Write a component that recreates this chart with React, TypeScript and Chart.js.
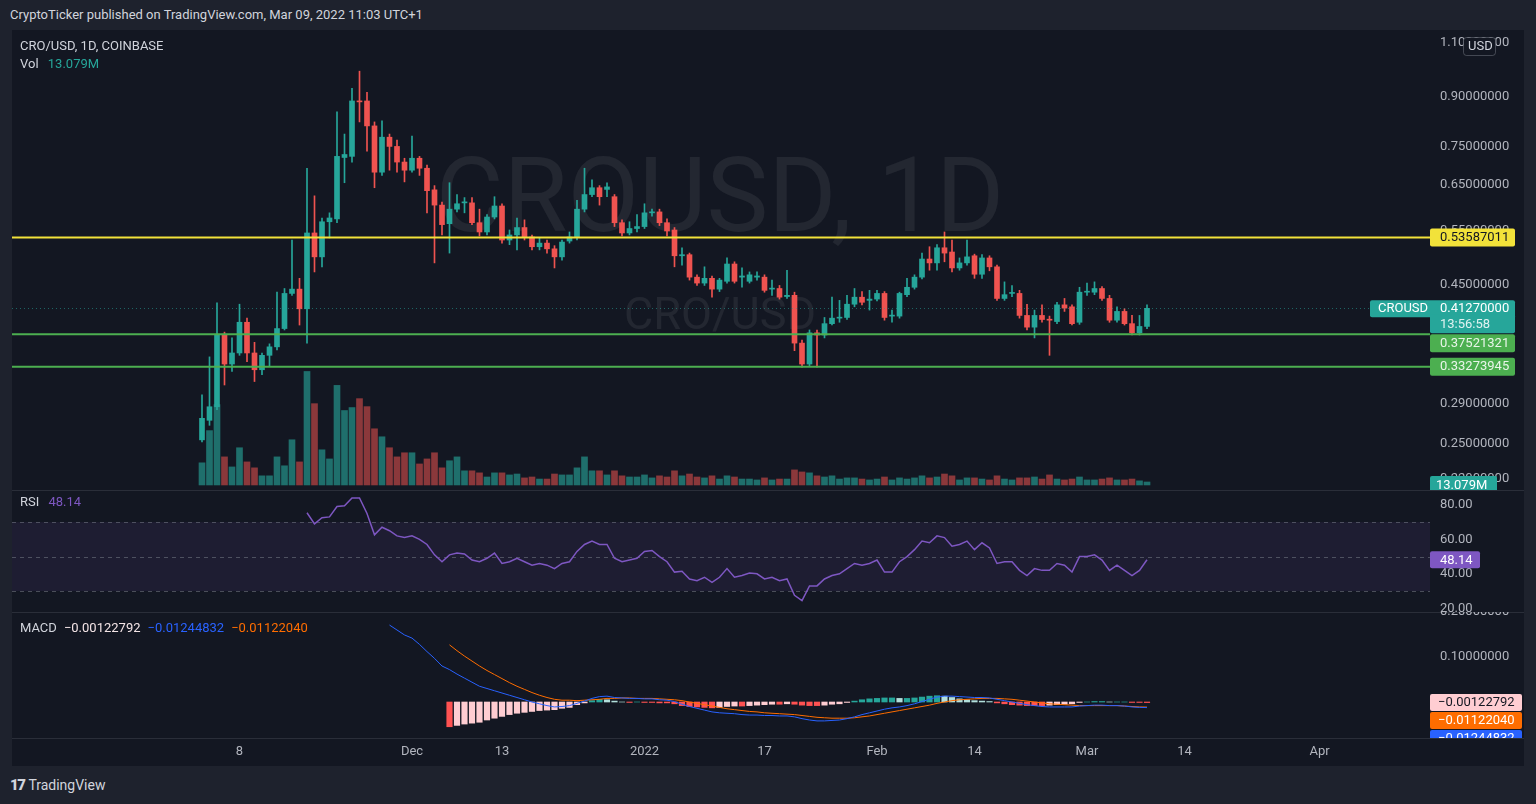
import React, { useEffect, useRef } from 'react';
import { Chart, registerables } from 'chart.js';
Chart.register(...registerables);

// ---------------- data ----------------
const startDate = '2021-11-03';
const axisOriginDate = '2021-12-01';

const opens = [
  0.254, 0.273, 0.287, 0.375, 0.336, 0.350, 0.392, 0.350, 0.329, 0.347,
  0.358, 0.383, 0.436, 0.443, 0.412, 0.545, 0.499, 0.568, 0.574, 0.720,
  0.723, 0.887, 0.887, 0.809, 0.682, 0.776, 0.750, 0.708, 0.687, 0.718,
  0.692, 0.639, 0.604, 0.564, 0.595, 0.609, 0.609, 0.566, 0.547, 0.578,
  0.602, 0.531, 0.541, 0.556, 0.537, 0.518, 0.525, 0.514, 0.499, 0.529,
  0.537, 0.595, 0.628, 0.644, 0.640, 0.623, 0.566, 0.545, 0.554, 0.558,
  0.587, 0.589, 0.566, 0.551, 0.501, 0.503, 0.463, 0.453, 0.461, 0.443,
  0.456, 0.486, 0.463, 0.456, 0.463, 0.463, 0.443, 0.444, 0.431, 0.433,
  0.363, 0.336, 0.377, 0.374, 0.390, 0.398, 0.399, 0.419, 0.430, 0.425,
  0.427, 0.436, 0.401, 0.401, 0.434, 0.446, 0.463, 0.495, 0.488, 0.516,
  0.508, 0.479, 0.488, 0.501, 0.468, 0.497, 0.481, 0.428, 0.436, 0.436,
  0.402, 0.385, 0.402, 0.396, 0.393, 0.418, 0.415, 0.392, 0.438, 0.438,
  0.444, 0.428, 0.395, 0.408, 0.390, 0.377, 0.386,
];
const highs = [
  0.300, 0.345, 0.421, 0.378, 0.370, 0.419, 0.398, 0.364, 0.350, 0.362,
  0.438, 0.444, 0.531, 0.461, 0.692, 0.625, 0.576, 0.587, 0.852, 0.785,
  0.929, 0.990, 0.916, 0.821, 0.824, 0.785, 0.768, 0.718, 0.779, 0.723,
  0.700, 0.649, 0.611, 0.656, 0.628, 0.621, 0.621, 0.595, 0.583, 0.623,
  0.607, 0.551, 0.576, 0.572, 0.541, 0.535, 0.531, 0.520, 0.531, 0.547,
  0.615, 0.692, 0.663, 0.649, 0.656, 0.628, 0.572, 0.568, 0.583, 0.607,
  0.595, 0.595, 0.574, 0.556, 0.516, 0.506, 0.467, 0.481, 0.465, 0.461,
  0.497, 0.490, 0.479, 0.472, 0.472, 0.467, 0.458, 0.449, 0.475, 0.438,
  0.367, 0.381, 0.381, 0.399, 0.430, 0.425, 0.433, 0.444, 0.439, 0.441,
  0.441, 0.439, 0.410, 0.438, 0.461, 0.467, 0.506, 0.518, 0.522, 0.547,
  0.531, 0.497, 0.531, 0.504, 0.503, 0.501, 0.484, 0.455, 0.449, 0.441,
  0.419, 0.410, 0.418, 0.401, 0.422, 0.428, 0.418, 0.446, 0.453, 0.455,
  0.447, 0.433, 0.415, 0.412, 0.402, 0.402, 0.418,
];
const lows = [
  0.252, 0.268, 0.284, 0.311, 0.327, 0.347, 0.339, 0.315, 0.323, 0.333,
  0.354, 0.381, 0.433, 0.388, 0.363, 0.472, 0.481, 0.535, 0.566, 0.656,
  0.708, 0.821, 0.737, 0.644, 0.674, 0.687, 0.682, 0.658, 0.682, 0.674,
  0.587, 0.488, 0.541, 0.506, 0.589, 0.587, 0.562, 0.539, 0.541, 0.574,
  0.525, 0.522, 0.512, 0.531, 0.512, 0.512, 0.506, 0.479, 0.493, 0.525,
  0.531, 0.589, 0.623, 0.604, 0.623, 0.558, 0.539, 0.541, 0.547, 0.554,
  0.580, 0.560, 0.539, 0.481, 0.484, 0.458, 0.449, 0.449, 0.430, 0.439,
  0.453, 0.453, 0.446, 0.453, 0.458, 0.438, 0.433, 0.427, 0.428, 0.353,
  0.332, 0.334, 0.332, 0.370, 0.388, 0.392, 0.396, 0.415, 0.418, 0.410,
  0.424, 0.395, 0.392, 0.398, 0.431, 0.443, 0.460, 0.475, 0.475, 0.490,
  0.472, 0.475, 0.484, 0.461, 0.461, 0.474, 0.425, 0.425, 0.431, 0.398,
  0.381, 0.370, 0.392, 0.347, 0.390, 0.408, 0.388, 0.389, 0.433, 0.434,
  0.425, 0.392, 0.392, 0.388, 0.374, 0.374, 0.383,
];
const closes = [
  0.275, 0.287, 0.375, 0.336, 0.350, 0.392, 0.350, 0.329, 0.347, 0.358,
  0.383, 0.436, 0.443, 0.412, 0.545, 0.499, 0.568, 0.576, 0.723, 0.728,
  0.887, 0.884, 0.809, 0.682, 0.776, 0.750, 0.708, 0.687, 0.718, 0.692,
  0.637, 0.604, 0.562, 0.595, 0.607, 0.611, 0.566, 0.547, 0.578, 0.602,
  0.531, 0.541, 0.556, 0.537, 0.518, 0.525, 0.514, 0.499, 0.527, 0.537,
  0.595, 0.628, 0.644, 0.623, 0.646, 0.566, 0.545, 0.554, 0.558, 0.587,
  0.589, 0.566, 0.549, 0.501, 0.503, 0.463, 0.453, 0.461, 0.443, 0.458,
  0.486, 0.456, 0.465, 0.467, 0.465, 0.441, 0.444, 0.430, 0.433, 0.363,
  0.336, 0.377, 0.374, 0.390, 0.398, 0.399, 0.419, 0.430, 0.422, 0.427,
  0.436, 0.399, 0.402, 0.436, 0.446, 0.463, 0.495, 0.488, 0.516, 0.506,
  0.479, 0.488, 0.499, 0.468, 0.497, 0.481, 0.428, 0.434, 0.437, 0.402,
  0.385, 0.402, 0.396, 0.395, 0.418, 0.413, 0.390, 0.438, 0.439, 0.444,
  0.428, 0.395, 0.408, 0.390, 0.377, 0.386, 0.4127,
];
// volume in millions
const volumes = [
  97, 238, 352, 123, 79, 163, 101, 75, 40, 40,
  123, 84, 198, 101, 497, 356, 154, 114, 436, 326,
  339, 378, 343, 246, 211, 163, 123, 141, 141, 92,
  114, 141, 75, 106, 123, 62, 62, 53, 35, 53,
  53, 44, 48, 31, 35, 26, 26, 48, 44, 44,
  75, 123, 62, 62, 44, 62, 40, 35, 35, 44,
  31, 40, 35, 62, 40, 48, 35, 31, 40, 26,
  40, 35, 26, 26, 22, 31, 22, 26, 26, 66,
  57, 53, 40, 35, 40, 26, 31, 31, 26, 22,
  26, 35, 22, 31, 26, 31, 40, 31, 35, 48,
  40, 22, 31, 31, 26, 22, 40, 26, 22, 31,
  31, 35, 26, 44, 26, 22, 26, 35, 22, 22,
  26, 31, 22, 22, 26, 18, 13.079,
];

const rsiFirstIndex = 14;
const rsiValues = [
  75.4, 69, 72.5, 73, 79, 79.4, 84, 84, 75, 62.6,
  67, 65, 62, 61, 62, 60, 57, 51, 47, 51,
  52, 51.5, 48, 47, 49, 52, 46, 47, 49, 47,
  45, 46, 45, 43, 46, 47, 53, 57, 59, 57,
  57, 49, 47, 48, 49, 53, 53.5, 50, 47, 41,
  41.5, 37, 36, 38, 35, 38, 43, 38, 39, 40.5,
  40, 37, 38, 36, 37, 27.5, 24.5, 33, 33, 37,
  39, 40, 43, 46, 45, 46, 48, 41, 41, 47,
  50, 54, 59, 58, 62, 61, 56, 57, 59, 54,
  58, 55, 46, 47, 47, 42, 39, 43, 42, 42,
  46, 45, 41, 50, 50, 51, 48, 42, 45, 42,
  39, 42, 48.14,
];

const macdFirstIndex = 25;
const macdValues = [
  0.171, 0.160, 0.149, 0.142, 0.128, 0.112, 0.097, 0.080, 0.072, 0.062,
  0.053, 0.044, 0.035, 0.030, 0.025, 0.020, 0.015, 0.010, 0.005, 0.000,
  -0.004, -0.008, -0.011, -0.010, -0.008, -0.003, 0.002, 0.008, 0.012, 0.013,
  0.010, 0.009, 0.008, 0.008, 0.007, 0.007, 0.005, 0.004, 0.001, -0.005,
  -0.010, -0.014, -0.018, -0.022, -0.024, -0.025, -0.026, -0.028, -0.029, -0.029,
  -0.030, -0.030, -0.031, -0.031, -0.033, -0.037, -0.040, -0.042, -0.042, -0.041,
  -0.040, -0.037, -0.033, -0.028, -0.024, -0.020, -0.016, -0.013, -0.011, -0.008,
  -0.004, 0.001, 0.006, 0.011, 0.013, 0.013, 0.012, 0.011, 0.010, 0.010,
  0.009, 0.006, 0.003, 0.000, -0.003, -0.006, -0.008, -0.010, -0.011, -0.011,
  -0.011, -0.011, -0.009, -0.008, -0.007, -0.007, -0.008, -0.008, -0.009, -0.011,
  -0.012, -0.01244832,
];

const signalFirstIndex = 33;
const signalValues = [
  0.127, 0.114, 0.102, 0.091, 0.080, 0.070, 0.061, 0.052, 0.043, 0.035,
  0.028, 0.021, 0.015, 0.010, 0.006, 0.004, 0.004, 0.003, 0.004, 0.005,
  0.006, 0.008, 0.008, 0.009, 0.009, 0.008, 0.008, 0.008, 0.007, 0.006,
  0.005, 0.003, 0.000, -0.003, -0.006, -0.009, -0.012, -0.015, -0.017, -0.019,
  -0.021, -0.022, -0.024, -0.025, -0.026, -0.027, -0.028, -0.030, -0.032, -0.034,
  -0.035, -0.036, -0.036, -0.036, -0.035, -0.033, -0.031, -0.028, -0.025, -0.022,
  -0.019, -0.016, -0.013, -0.010, -0.007, -0.003, 0.000, 0.003, 0.005, 0.006,
  0.007, 0.008, 0.008, 0.008, 0.007, 0.006, 0.004, 0.002, 0.000, -0.002,
  -0.004, -0.005, -0.006, -0.007, -0.008, -0.008, -0.008, -0.008, -0.008, -0.008,
  -0.009, -0.010, -0.011, -0.0112204,
];

const histFirstIndex = 33;
const histValues = [
  -0.055, -0.052, -0.049, -0.047, -0.045, -0.040, -0.036, -0.032, -0.028, -0.025,
  -0.023, -0.021, -0.019, -0.018, -0.017, -0.014, -0.012, -0.006, -0.002, 0.003,
  0.006, 0.005, 0.002, 0.000, -0.001, 0.000, -0.001, -0.001, -0.002, -0.002,
  -0.004, -0.008, -0.010, -0.011, -0.012, -0.013, -0.012, -0.010, -0.009, -0.009,
  -0.008, -0.007, -0.006, -0.005, -0.005, -0.004, -0.005, -0.007, -0.008, -0.008,
  -0.007, -0.005, -0.004, -0.001, 0.002, 0.005, 0.007, 0.008, 0.009, 0.009,
  0.008, 0.008, 0.009, 0.011, 0.013, 0.014, 0.013, 0.010, 0.007, 0.005,
  0.003, 0.002, 0.001, -0.002, -0.004, -0.006, -0.007, -0.008, -0.008, -0.008,
  -0.007, -0.006, -0.005, -0.004, -0.001, 0.000, 0.001, 0.001, 0.000, 0.000,
  0.000, -0.001, -0.001, -0.00122792,
];

const priceTicks = [0.22, 0.25, 0.29, 0.45, 0.55, 0.65, 0.75, 0.9, 1.1];
const rsiTicks = [20, 40, 60, 80];
const macdTicks = [0.1, 0.2];
const xTickDates = ['2021-11-08', '2021-12-01', '2021-12-13', '2022-01-01', '2022-01-17', '2022-02-01', '2022-02-14', '2022-03-01', '2022-03-14', '2022-04-01'];
const xTickLabels = ['8', 'Dec', '13', '2022', '17', 'Feb', '14', 'Mar', '14', 'Apr'];

const resistanceLevel = 0.53587011;
const supportLevels = [0.37521321, 0.33273945];
const lastPrice = 0.4127;
const symbolName = 'CROUSD';
const countdownText = '13:56:58';
const lastVolumeText = '13.079M';
const rsiLastText = '48.14';
const macdHistText = '\u22120.00122792';
const macdLineText = '\u22120.01244832';
const macdSignalText = '\u22120.01122040';

// ---------------- view ranges ----------------
const X_MIN = -53.333;
const X_MAX = 135.733;
const P_MIN = 0.2111;
const P_MAX = 1.1525;
const V_MIN = -22;
const V_MAX = 1992;
const RSI_MIN = 17.85;
const RSI_MAX = 88.6;
const MACD_MIN = -0.08;
const MACD_MAX = 0.2;

const UP = '#26a69a';
const DOWN = '#ef5350';
const FONT = 'Roboto, "Liberation Sans", sans-serif';
const AXIS_TEXT = '#b2b5be';

const DAY = 86400000;
const dayOffset = (iso: string) => (Date.parse(iso) - Date.parse(axisOriginDate)) / DAY;
const candleX = (i: number) => dayOffset(startDate) + i;
const isUp = (i: number) => closes[i] >= opens[i];

function box(ctx: any, x: number, y: number, w: number, h: number, bg: string) {
  ctx.fillStyle = bg;
  ctx.beginPath();
  if (ctx.roundRect) ctx.roundRect(x, y, w, h, 2);
  else ctx.rect(x, y, w, h);
  ctx.fill();
}

function drawYTicks(chart: any, scaleId: string, values: number[], fmt: (v: number) => string) {
  const { ctx, chartArea } = chart;
  const sc = chart.scales[scaleId];
  ctx.save();
  ctx.font = `13px ${FONT}`;
  ctx.fillStyle = AXIS_TEXT;
  ctx.textAlign = 'left';
  ctx.textBaseline = 'middle';
  values.forEach((v) => {
    ctx.fillText(fmt(v), chartArea.right + 10, sc.getPixelForValue(v));
  });
  ctx.restore();
}

const mainPlugin = {
  id: 'mainDecor',
  beforeDatasetsDraw(chart: any) {
    const { ctx, chartArea } = chart;
    ctx.save();
    ctx.beginPath();
    ctx.rect(chartArea.left, chartArea.top, chartArea.width, chartArea.height);
    ctx.clip();
    ctx.fillStyle = 'rgba(255,255,255,0.07)';
    ctx.textAlign = 'center';
    ctx.textBaseline = 'middle';
    ctx.font = `104px ${FONT}`;
    ctx.fillText('CROUSD, 1D', 708, 175);
    ctx.font = `45px ${FONT}`;
    ctx.fillText('CRO/USD', 708, 288);
    ctx.restore();
  },
  afterDatasetsDraw(chart: any) {
    const { ctx, chartArea } = chart;
    const ys = chart.scales.y;
    ctx.save();
    const py = Math.round(ys.getPixelForValue(lastPrice)) + 0.5;
    ctx.strokeStyle = 'rgba(38,166,154,0.55)';
    ctx.lineWidth = 1;
    ctx.setLineDash([1, 3]);
    ctx.beginPath();
    ctx.moveTo(chartArea.left, py);
    ctx.lineTo(chartArea.right, py);
    ctx.stroke();
    ctx.setLineDash([]);
    ctx.lineWidth = 2;
    ctx.strokeStyle = '#f2e23a';
    const yy = ys.getPixelForValue(resistanceLevel);
    ctx.beginPath();
    ctx.moveTo(chartArea.left, yy);
    ctx.lineTo(chartArea.right, yy);
    ctx.stroke();
    ctx.strokeStyle = '#4caf50';
    supportLevels.forEach((lv) => {
      const gy = ys.getPixelForValue(lv);
      ctx.beginPath();
      ctx.moveTo(chartArea.left, gy);
      ctx.lineTo(chartArea.right, gy);
      ctx.stroke();
    });
    ctx.restore();
  },
  afterDraw(chart: any) {
    const { ctx, chartArea } = chart;
    const ys = chart.scales.y;
    const yv = chart.scales.yVol;
    drawYTicks(chart, 'y', priceTicks, (v) => v.toFixed(8));
    const bx = chartArea.right;
    ctx.save();
    ctx.font = `13px ${FONT}`;
    ctx.textBaseline = 'middle';
    ctx.textAlign = 'left';
    ctx.fillStyle = '#131722';
    ctx.strokeStyle = 'rgba(120,123,134,0.5)';
    ctx.beginPath();
    if (ctx.roundRect) ctx.roundRect(bx + 33.5, 7.5, 32, 18, 3);
    else ctx.rect(bx + 33.5, 7.5, 32, 18);
    ctx.fill();
    ctx.stroke();
    ctx.fillStyle = '#d1d4dc';
    ctx.fillText('USD', bx + 38, 17);
    const ry = ys.getPixelForValue(resistanceLevel);
    box(ctx, bx, ry - 9, 85, 18, '#f2e23a');
    ctx.fillStyle = '#131722';
    ctx.fillText(resistanceLevel.toFixed(8), bx + 10, ry + 0.5);
    const cy = ys.getPixelForValue(lastPrice);
    box(ctx, bx - 60, cy - 8, 145, 17, UP);
    box(ctx, bx, cy + 6, 85, 19, UP);
    ctx.fillStyle = '#ffffff';
    ctx.fillText(symbolName, bx - 52, cy + 0.5);
    ctx.fillText(lastPrice.toFixed(8), bx + 10, cy + 0.5);
    ctx.fillStyle = '#e0f2f1';
    ctx.fillText(countdownText, bx + 10, cy + 16.5);
    let prevBottom = cy + 25;
    supportLevels.forEach((lv) => {
      const gy = ys.getPixelForValue(lv);
      let top = gy - 9;
      if (top < prevBottom + 1) top = prevBottom + 1;
      box(ctx, bx, top, 85, 18, '#4caf50');
      ctx.fillStyle = '#e8f5e9';
      ctx.fillText(lv.toFixed(8), bx + 10, top + 9.5);
      prevBottom = top + 18;
    });
    const vy = yv.getPixelForValue(volumes[volumes.length - 1]);
    box(ctx, bx, vy - 6, 67, 18, UP);
    ctx.fillStyle = '#ffffff';
    ctx.fillText(lastVolumeText, bx + 6, vy + 3.5);
    ctx.restore();
  },
};

const rsiPlugin = {
  id: 'rsiDecor',
  beforeDatasetsDraw(chart: any) {
    const { ctx, chartArea } = chart;
    const ys = chart.scales.y;
    const y70 = ys.getPixelForValue(70);
    const y30 = ys.getPixelForValue(30);
    const y50 = ys.getPixelForValue(50);
    ctx.save();
    ctx.fillStyle = 'rgba(126,87,194,0.1)';
    ctx.fillRect(chartArea.left, y70, chartArea.width, y30 - y70);
    ctx.strokeStyle = 'rgba(120,123,134,0.55)';
    ctx.lineWidth = 1;
    ctx.setLineDash([4, 4]);
    [y70, y50, y30].forEach((yy) => {
      ctx.beginPath();
      ctx.moveTo(chartArea.left, Math.round(yy) + 0.5);
      ctx.lineTo(chartArea.right, Math.round(yy) + 0.5);
      ctx.stroke();
    });
    ctx.restore();
  },
  afterDraw(chart: any) {
    const { ctx, chartArea } = chart;
    drawYTicks(chart, 'y', rsiTicks, (v) => v.toFixed(2));
    const ys = chart.scales.y;
    const vy = ys.getPixelForValue(rsiValues[rsiValues.length - 1]);
    ctx.save();
    box(ctx, chartArea.right, vy - 8.5, 50, 17, '#7e57c2');
    ctx.font = `13px ${FONT}`;
    ctx.fillStyle = '#ffffff';
    ctx.textBaseline = 'middle';
    ctx.textAlign = 'left';
    ctx.fillText(rsiLastText, chartArea.right + 10, vy + 0.5);
    ctx.restore();
  },
};

const macdPlugin = {
  id: 'macdDecor',
  afterDraw(chart: any) {
    const { ctx, chartArea } = chart;
    drawYTicks(chart, 'y', macdTicks, (v) => v.toFixed(8));
    const ys = chart.scales.y;
    const xs = chart.scales.x;
    ctx.save();
    ctx.font = `13px ${FONT}`;
    ctx.textBaseline = 'middle';
    ctx.textAlign = 'left';
    const hy = ys.getPixelForValue(histValues[histValues.length - 1]);
    let top = hy - 8.5;
    box(ctx, chartArea.right, top, 92, 17, '#ffcdd2');
    ctx.fillStyle = '#131722';
    ctx.fillText(macdHistText, chartArea.right + 8, top + 9);
    top += 18;
    box(ctx, chartArea.right, top, 92, 17, '#ff6d00');
    ctx.fillStyle = '#ffffff';
    ctx.fillText(macdSignalText, chartArea.right + 8, top + 9);
    top += 18;
    box(ctx, chartArea.right, top, 92, 17, '#2962ff');
    ctx.fillStyle = '#ffffff';
    ctx.fillText(macdLineText, chartArea.right + 8, top + 9);
    ctx.fillStyle = '#131722';
    ctx.fillRect(0, chartArea.bottom, chart.width, chart.height - chartArea.bottom);
    ctx.fillStyle = '#2a2e39';
    ctx.fillRect(0, chartArea.bottom, chart.width, 1);
    ctx.fillStyle = AXIS_TEXT;
    ctx.textAlign = 'center';
    xTickDates.forEach((d, k) => {
      ctx.fillText(xTickLabels[k], xs.getPixelForValue(dayOffset(d)), chartArea.bottom + 14);
    });
    ctx.restore();
  },
};

const baseOptions = (padBottom: number) => ({
  animation: false as const,
  responsive: true,
  maintainAspectRatio: false,
  events: [] as any[],
  layout: { padding: { left: 0, right: 94, top: 0, bottom: padBottom } },
  plugins: { legend: { display: false }, tooltip: { enabled: false } },
});

export default function App() {
  const mainRef = useRef<HTMLCanvasElement>(null);
  const rsiRef = useRef<HTMLCanvasElement>(null);
  const macdRef = useRef<HTMLCanvasElement>(null);

  useEffect(() => {
    const colorFn = (a: number) => (ctx: any) => {
      const i = ctx.dataIndex;
      if (i == null) return UP;
      if (a === 1) return isUp(i) ? UP : DOWN;
      return isUp(i) ? 'rgba(38,166,154,0.62)' : 'rgba(239,83,80,0.55)';
    };

    const main = new Chart(mainRef.current as HTMLCanvasElement, {
      type: 'bar',
      data: {
        datasets: [
          {
            label: 'Volume',
            data: volumes.map((v, i) => ({ x: candleX(i), y: v })) as any,
            yAxisID: 'yVol',
            backgroundColor: colorFn(0.5) as any,
            barThickness: 6,
            grouped: false,
            order: 3,
          },
          {
            label: 'Wick',
            data: lows.map((l, i) => ({ x: candleX(i), y: [l, highs[i]] })) as any,
            yAxisID: 'y',
            backgroundColor: colorFn(1) as any,
            barThickness: 1,
            grouped: false,
            order: 2,
          },
          {
            label: 'Body',
            data: opens.map((o, i) => ({ x: candleX(i), y: [o, closes[i]] })) as any,
            yAxisID: 'y',
            backgroundColor: colorFn(1) as any,
            barThickness: 5,
            minBarLength: 1,
            grouped: false,
            order: 1,
          },
        ],
      },
      options: {
        ...baseOptions(0),
        scales: {
          x: { type: 'linear', min: X_MIN, max: X_MAX, display: false, offset: false },
          y: { type: 'logarithmic', min: P_MIN, max: P_MAX, display: false },
          yVol: { type: 'linear', min: V_MIN, max: V_MAX, display: false },
        },
      } as any,
      plugins: [mainPlugin],
    });

    const rsi = new Chart(rsiRef.current as HTMLCanvasElement, {
      type: 'line',
      data: {
        datasets: [
          {
            label: 'RSI',
            data: rsiValues.map((v, k) => ({ x: candleX(rsiFirstIndex + k), y: v })) as any,
            borderColor: '#7e57c2',
            borderWidth: 1.5,
            pointRadius: 0,
            tension: 0,
          },
        ],
      },
      options: {
        ...baseOptions(0),
        scales: {
          x: { type: 'linear', min: X_MIN, max: X_MAX, display: false },
          y: { type: 'linear', min: RSI_MIN, max: RSI_MAX, display: false },
        },
      } as any,
      plugins: [rsiPlugin],
    });

    const histColors = histValues.map((v, k) => {
      const prev = k > 0 ? histValues[k - 1] : null;
      if (v >= 0) return prev !== null && v < prev ? '#b2dfdb' : '#26a69a';
      return prev !== null && v > prev ? '#ffcdd2' : '#ff5252';
    });

    const macd = new Chart(macdRef.current as HTMLCanvasElement, {
      type: 'bar',
      data: {
        datasets: [
          {
            type: 'bar',
            label: 'Histogram',
            data: histValues.map((v, k) => ({ x: candleX(histFirstIndex + k), y: v })) as any,
            backgroundColor: histColors,
            barThickness: 5.5,
            grouped: false,
            order: 3,
          } as any,
          {
            type: 'line',
            label: 'MACD',
            data: macdValues.map((v, k) => ({ x: candleX(macdFirstIndex + k), y: v })) as any,
            borderColor: '#2962ff',
            borderWidth: 1,
            pointRadius: 0,
            tension: 0,
            order: 1,
          } as any,
          {
            type: 'line',
            label: 'Signal',
            data: signalValues.map((v, k) => ({ x: candleX(signalFirstIndex + k), y: v })) as any,
            borderColor: '#ff6d00',
            borderWidth: 1,
            pointRadius: 0,
            tension: 0,
            order: 2,
          } as any,
        ],
      },
      options: {
        ...baseOptions(28),
        scales: {
          x: { type: 'linear', min: X_MIN, max: X_MAX, display: false, offset: false },
          y: { type: 'linear', min: MACD_MIN, max: MACD_MAX, display: false },
        },
      } as any,
      plugins: [macdPlugin],
    });

    return () => {
      main.destroy();
      rsi.destroy();
      macd.destroy();
    };
  }, []);

  const legendText: React.CSSProperties = {
    position: 'absolute',
    left: 8,
    fontSize: 13,
    lineHeight: '16px',
    color: '#d1d4dc',
    whiteSpace: 'nowrap',
    pointerEvents: 'none',
  };

  return (
    <div
      style={{
        position: 'fixed',
        left: 0,
        top: 0,
        width: 1536,
        height: 804,
        background: '#1e222d',
        overflow: 'hidden',
        fontFamily: FONT,
      }}
    >
      <div style={{ position: 'absolute', left: 10, top: 7, fontSize: 13, lineHeight: '16px', color: '#d1d4dc', whiteSpace: 'nowrap' }}>
        CryptoTicker published on TradingView.com, Mar 09, 2022 11:03 UTC+1
      </div>
      <div style={{ position: 'absolute', left: 12, top: 30, width: 1512, height: 736, background: '#131722' }}>
        <div style={{ position: 'absolute', left: 0, top: 0, width: 1512, height: 460 }}>
          <canvas ref={mainRef} />
        </div>
        <div style={{ position: 'absolute', left: 0, top: 460, width: 1512, height: 1, background: '#2a2e39' }} />
        <div style={{ position: 'absolute', left: 0, top: 460, width: 1512, height: 122 }}>
          <canvas ref={rsiRef} />
        </div>
        <div style={{ position: 'absolute', left: 0, top: 582, width: 1512, height: 1, background: '#2a2e39' }} />
        <div style={{ position: 'absolute', left: 0, top: 582, width: 1512, height: 154 }}>
          <canvas ref={macdRef} />
        </div>
        <div style={{ ...legendText, top: 8 }}>CRO/USD, 1D, COINBASE</div>
        <div style={{ ...legendText, top: 26 }}>
          Vol <span style={{ color: '#26a69a', marginLeft: 6 }}>{lastVolumeText}</span>
        </div>
        <div style={{ ...legendText, top: 464 }}>
          RSI <span style={{ color: '#7e57c2', marginLeft: 6 }}>{rsiLastText}</span>
        </div>
        <div style={{ ...legendText, top: 590 }}>
          MACD
          <span style={{ color: '#f3e4e6', marginLeft: 7 }}>{macdHistText}</span>
          <span style={{ color: '#2962ff', marginLeft: 7 }}>{macdLineText}</span>
          <span style={{ color: '#ff6d00', marginLeft: 7 }}>{macdSignalText}</span>
        </div>
      </div>
      <div style={{ position: 'absolute', left: 10, top: 776, display: 'flex', alignItems: 'center', color: '#d1d4dc', whiteSpace: 'nowrap' }}>
        <span style={{ fontWeight: 900, fontSize: 15, letterSpacing: -1.5, marginRight: 4, lineHeight: '18px' }}>17</span>
        <span style={{ fontSize: 14, lineHeight: '18px' }}>TradingView</span>
      </div>
    </div>
  );
}
